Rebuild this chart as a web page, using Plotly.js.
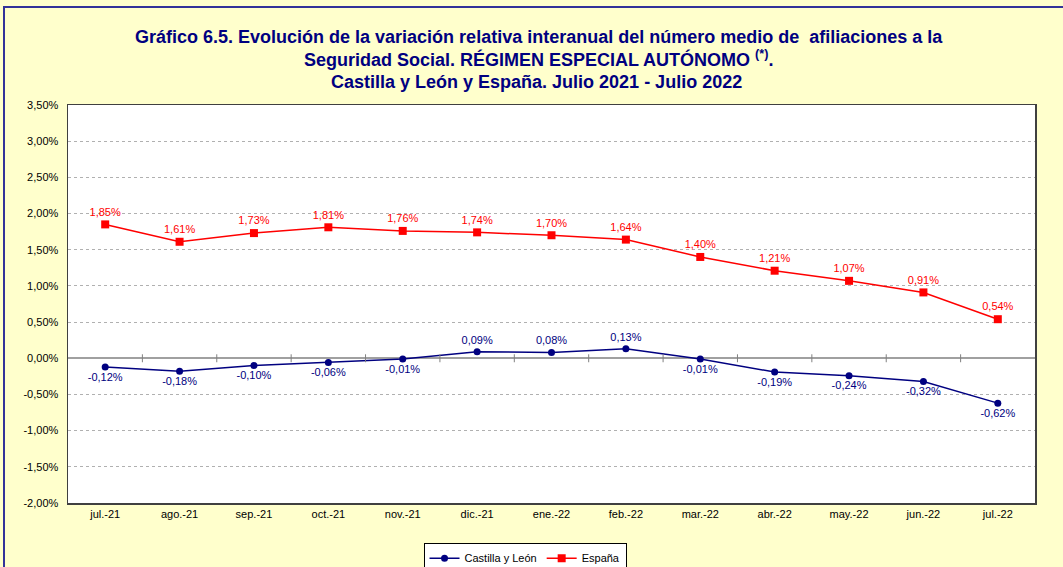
<!DOCTYPE html>
<html>
<head>
<meta charset="utf-8">
<script src="https://cdn.plot.ly/plotly-3.0.1.min.js"></script>
<style>
  html, body { margin: 0; padding: 0; width: 1063px; height: 567px; overflow: hidden; background: #FFFFCC; }
  #frame { position: absolute; left: 3px; top: 6px; border-left: 2px solid #333399; border-top: 2px solid #333399; width: 1070px; height: 570px; }
  #chart { width: 1070px; height: 570px; }
</style>
</head>
<body>
<div id="frame"><div id="chart"></div></div>
<script>
const months = ["jul.-21","ago.-21","sep.-21","oct.-21","nov.-21","dic.-21","ene.-22","feb.-22","mar.-22","abr.-22","may.-22","jun.-22","jul.-22"];
const castillaLeon = [-0.12, -0.18, -0.10, -0.06, -0.01, 0.09, 0.08, 0.13, -0.01, -0.19, -0.24, -0.32, -0.62];
const espana = [1.85, 1.61, 1.73, 1.81, 1.76, 1.74, 1.70, 1.64, 1.40, 1.21, 1.07, 0.91, 0.54];
const yTicks = [-2, -1.5, -1, -0.5, 0, 0.5, 1, 1.5, 2, 2.5, 3, 3.5];
const titleLines = [
  "Gráfico 6.5. Evolución de la variación relativa interanual del número medio de  afiliaciones a la",
  "Seguridad Social. RÉGIMEN ESPECIAL AUTÓNOMO <sup>(*)</sup>.",
  "Castilla y León y España. Julio 2021 - Julio 2022"
];

const font = "Arial, 'Liberation Sans', sans-serif";
const fmt = v => v.toFixed(2).replace(".", ",") + "%";

const traces = [
  {
    name: "Castilla y León", x: months, y: castillaLeon, type: "scatter", mode: "lines+markers+text",
    line: {color: "#000080", width: 1.5},
    marker: {color: "#000080", symbol: "circle", size: 7},
    text: castillaLeon.map(fmt),
    textposition: castillaLeon.map(v => v > 0 ? "top center" : "bottom center"),
    textfont: {color: "#000080", size: 11, family: font},
    cliponaxis: false
  },
  {
    name: "España", x: months, y: espana, type: "scatter", mode: "lines+markers+text",
    line: {color: "#FF0000", width: 1.5},
    marker: {color: "#FF0000", symbol: "square", size: 8},
    text: espana.map(fmt),
    textposition: "top center",
    textfont: {color: "#FF0000", size: 11, family: font},
    cliponaxis: false
  }
];

const shapes = [];
for (let i = 0; i < months.length - 1; i++) {
  shapes.push({type: "line", xref: "x", yref: "y", x0: i + 0.5, x1: i + 0.5, y0: -0.055, y1: 0.055,
    line: {color: "#808080", width: 1}});
}

const titleY = [1.1709, 1.118, 1.0578];
const titleX = [0.487, 0.487, 0.485];
const annotations = titleLines.map((t, i) => ({
  text: "<b>" + t + "</b>", xref: "paper", yref: "paper", x: titleX[i], y: titleY[i],
  xanchor: "center", yanchor: "middle", showarrow: false,
  font: {family: font, size: 18, color: "#000080"}
}));

const layout = {
  width: 1070, height: 570,
  paper_bgcolor: "#FFFFCC", plot_bgcolor: "#FFFFFF",
  margin: {l: 63, r: 40, t: 97, b: 75},
  font: {family: font, size: 11, color: "#000000"},
  xaxis: {
    type: "category", showgrid: false, ticks: "", zeroline: false,
    showline: true, mirror: true, linecolor: "#404040", linewidth: 1.5,
    tickfont: {size: 11, family: font}, range: [-0.5, months.length - 0.5]
  },
  yaxis: {
    range: [-2, 3.5], tickmode: "array", tickvals: yTicks, ticktext: yTicks.map(fmt),
    showgrid: true, gridcolor: "#B0B0B0", griddash: "dot", gridwidth: 1,
    zeroline: true, zerolinecolor: "#A0A0A0", zerolinewidth: 2,
    showline: true, mirror: true, linecolor: "#404040", linewidth: 1.5,
    ticks: "", ticklabelstandoff: 6, tickfont: {size: 11, family: font}
  },
  shapes: shapes,
  annotations: annotations,
  showlegend: true,
  legend: {
    orientation: "h", xref: "container", yref: "container",
    x: 0.486, xanchor: "center", y: 0.062, yanchor: "top",
    bgcolor: "#FFFFFF", bordercolor: "#000000", borderwidth: 1,
    font: {size: 11, family: font}
  }
};

Plotly.newPlot("chart", traces, layout, {displayModeBar: false, staticPlot: true});
</script>
</body>
</html>
